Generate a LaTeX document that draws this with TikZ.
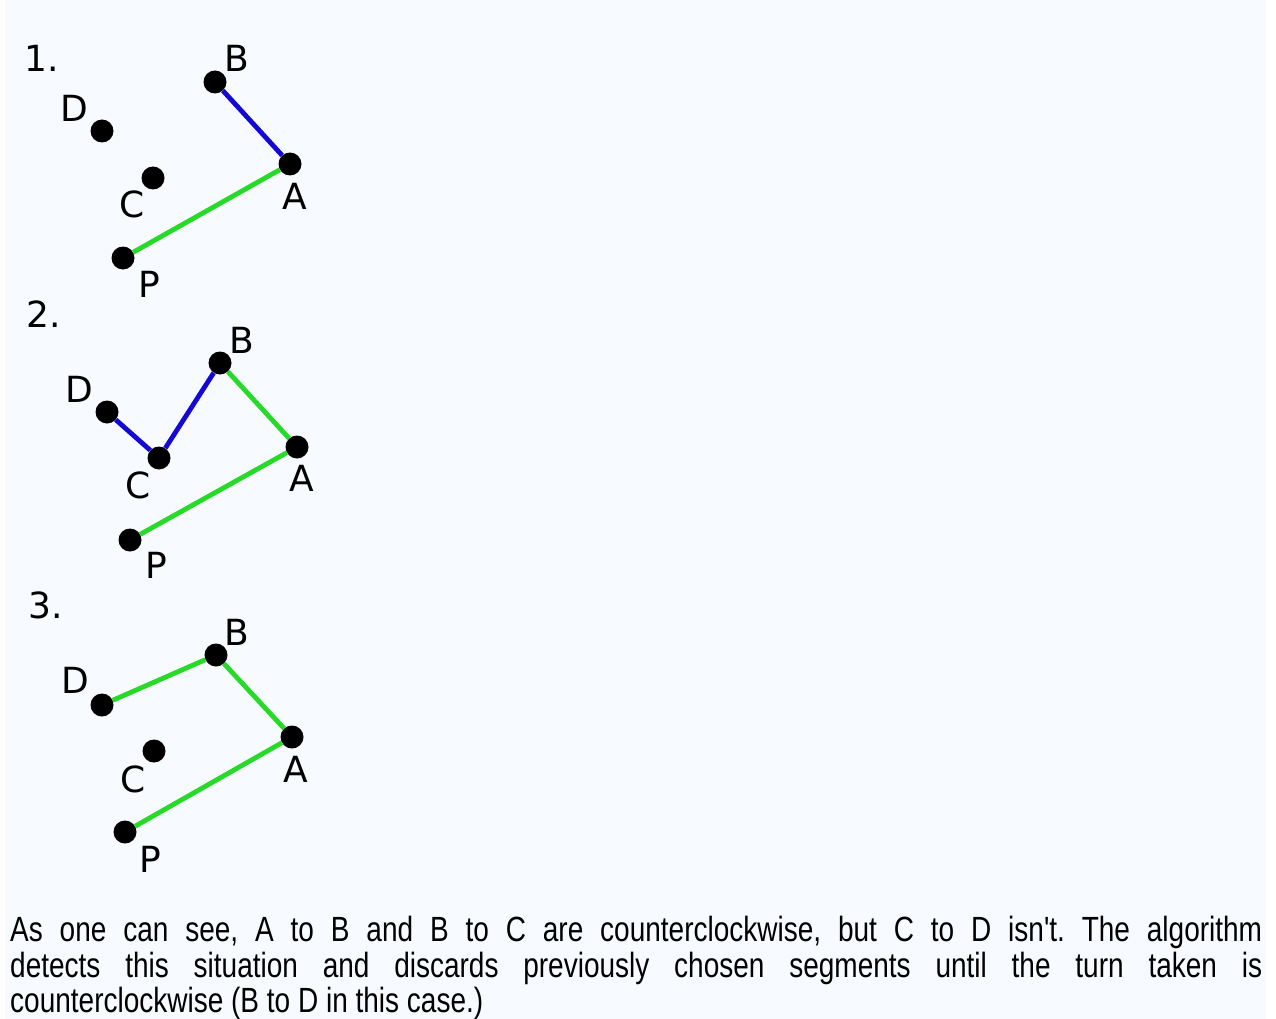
\documentclass[tikz,border=0pt]{standalone}
\usepackage{fontspec}
\newfontfamily\labelfont{DejaVu Sans}
\newfontfamily\bodyfont[FakeStretch=0.80]{Liberation Sans}
\definecolor{bgcol}{HTML}{F7FBFF}
\definecolor{segblue}{RGB}{22,8,212}
\definecolor{seggreen}{RGB}{40,218,40}
\tikzset{
  dot/.style={circle, fill=black, inner sep=0pt, minimum size=23pt},
  lbl/.style={anchor=base, inner sep=0pt, font=\labelfont\fontsize{36}{36}\selectfont},
  blueseg/.style={draw=segblue, line width=4.8pt},
  greenseg/.style={draw=seggreen, line width=4.8pt},
}
\begin{document}
\begin{tikzpicture}[x=1pt,y=-1pt]
\useasboundingbox (0,0) rectangle (1276,1019);
\fill[white] (0,0) rectangle (1276,1019);
\fill[bgcol] (5,0) rectangle (1266,1019);

% ---------- panel 1 ----------
\node[lbl] (n1) at (42,72) {1.};
\node[dot] (B1) at (215,82) {};
\node[dot] (D1) at (102,131) {};
\node[dot] (C1) at (153,178) {};
\node[dot] (A1) at (290,164) {};
\node[dot] (P1) at (123,258) {};
\node[lbl] (lB1) at (237,72) {B};
\node[lbl] (lD1) at (74,122) {D};
\node[lbl] (lC1) at (132,218) {C};
\node[lbl] (lA1) at (295,209) {A};
\node[lbl] (lP1) at (149,297) {P};
\path[blueseg] (B1) -- (A1);
\path[greenseg] (P1) -- (A1);

% ---------- panel 2 ----------
\node[lbl] (n2) at (44,327) {2.};
\node[dot] (B2) at (220,363) {};
\node[dot] (D2) at (107,412) {};
\node[dot] (C2) at (159,458) {};
\node[dot] (A2) at (297,447) {};
\node[dot] (P2) at (130,540) {};
\node[lbl] (lB2) at (242,353) {B};
\node[lbl] (lD2) at (79,402) {D};
\node[lbl] (lC2) at (138,498) {C};
\node[lbl] (lA2) at (302,491) {A};
\node[lbl] (lP2) at (156,578) {P};
\path[blueseg] (D2) -- (C2);
\path[blueseg] (C2) -- (B2);
\path[greenseg] (B2) -- (A2);
\path[greenseg] (P2) -- (A2);

% ---------- panel 3 ----------
\node[lbl] (n3) at (46,618) {3.};
\node[dot] (B3) at (216,655) {};
\node[dot] (D3) at (102,705) {};
\node[dot] (C3) at (154,751) {};
\node[dot] (A3) at (292,737) {};
\node[dot] (P3) at (125,832) {};
\node[lbl] (lB3) at (237,645) {B};
\node[lbl] (lD3) at (75,693) {D};
\node[lbl] (lC3) at (133,792) {C};
\node[lbl] (lA3) at (296,782) {A};
\node[lbl] (lP3) at (150,872) {P};
\path[greenseg] (D3) -- (B3);
\path[greenseg] (B3) -- (A3);
\path[greenseg] (P3) -- (A3);

% ---------- caption ----------
\node[anchor=north west, inner sep=0pt, text width=1252pt, align=justify,
      font=\bodyfont\fontsize{35}{35.5}\selectfont\frenchspacing] (cap) at (10,916)
  {As one can see, A to B and B to C are counterclockwise, but C to D isn't. The algorithm\linebreak
   detects this situation and discards previously chosen segments until the turn taken is\linebreak
   counterclockwise (B to D in this case.)};
\end{tikzpicture}
\end{document}
